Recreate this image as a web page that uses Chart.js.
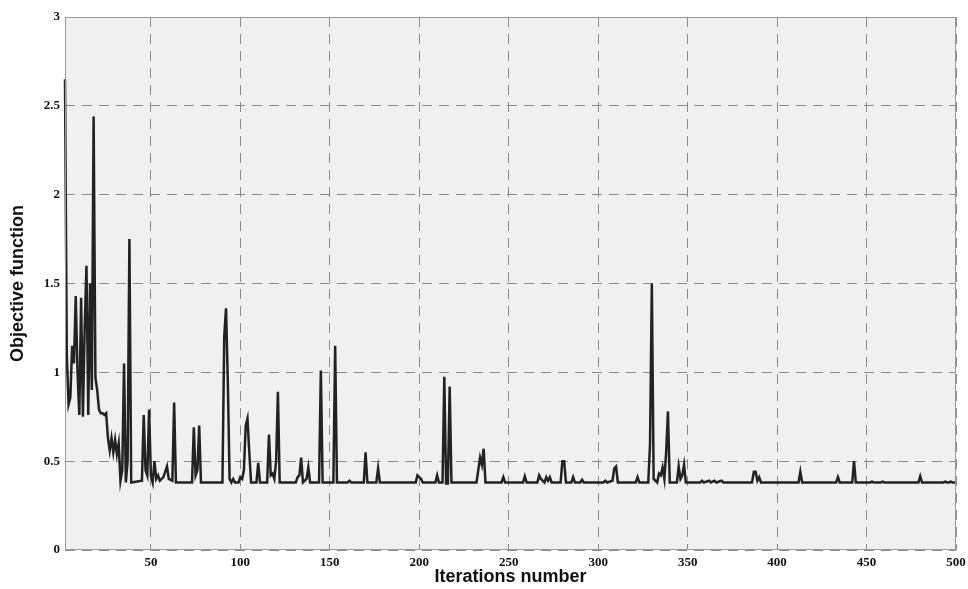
<!DOCTYPE html>
<html>
<head>
<meta charset="utf-8">
<script src="https://cdn.jsdelivr.net/npm/chart.js@4"></script>
<style>
  html, body { margin: 0; padding: 0; background: #fff; }
  #wrap { width: 968px; height: 589px; position: relative; }
</style>
</head>
<body>
<div id="wrap"><canvas id="myChart"></canvas></div>
<script>
// iteration numbers where the curve changes, and the objective value there
const iterations = [
  2,3,4,5,6,7,8,9,10,11,12,13,14,15,16,17,18,19,20,21,22,23,24,25,26,27,28,29,30,
  31,32,33,34,35,36,37,38,39,45,46,47,48,49,50,51,52,53,54,55,57,58,59,60,62,63,64,
  73,74,75,76,77,78,90,91,92,93,94,95,96,97,99,100,101,102,103,104,105,106,
  109,110,111,115,116,117,118,119,120,121,122,131,132,133,134,135,137,138,139,
  144,145,146,152,153,154,160,161,162,169,170,171,176,177,178,
  198,199,200,201,202,209,210,211,213,214,215,216,217,218,
  232,233,234,235,236,237,246,247,248,258,259,260,266,267,268,270,271,272,273,274,
  279,280,281,282,285,286,287,290,291,292,303,304,305,308,309,310,311,321,322,323,
  328,329,330,331,333,334,335,336,337,338,339,340,344,345,346,347,348,349,
  357,358,359,362,363,365,366,369,370,386,387,388,389,390,391,412,413,414,
  433,434,435,442,443,444,452,453,454,458,459,460,479,480,481,493,494,495,496,497,498,500
];
const objective = [
  2.65,1.1,0.82,0.86,1.15,1.05,1.43,1.0,0.76,1.42,0.75,1.25,1.6,0.76,1.5,0.9,2.44,0.97,0.9,0.79,0.77,0.77,0.76,0.77,0.63,0.56,0.63,0.55,0.62,
  0.54,0.6,0.39,0.45,1.05,0.38,0.5,1.75,0.38,0.39,0.76,0.45,0.42,0.79,0.42,0.38,0.5,0.4,0.42,0.39,0.41,0.44,0.47,0.4,0.39,0.83,0.38,
  0.38,0.69,0.42,0.45,0.7,0.38,0.38,1.2,1.36,0.95,0.4,0.38,0.4,0.38,0.38,0.41,0.4,0.45,0.7,0.74,0.55,0.38,
  0.38,0.49,0.38,0.38,0.65,0.42,0.43,0.4,0.5,0.89,0.38,0.38,0.41,0.42,0.52,0.38,0.4,0.465,0.38,
  0.38,1.01,0.38,0.38,1.15,0.38,0.38,0.39,0.38,0.38,0.55,0.38,0.38,0.46,0.38,
  0.38,0.42,0.41,0.4,0.38,0.38,0.42,0.38,0.38,0.975,0.375,0.375,0.92,0.38,
  0.38,0.45,0.52,0.48,0.57,0.38,0.38,0.41,0.38,0.38,0.415,0.38,0.38,0.42,0.4,0.38,0.41,0.39,0.41,0.38,
  0.38,0.5,0.5,0.38,0.38,0.41,0.38,0.38,0.395,0.38,0.38,0.39,0.38,0.39,0.46,0.47,0.38,0.38,0.41,0.38,
  0.38,0.6,1.5,0.4,0.38,0.43,0.42,0.465,0.4,0.55,0.78,0.38,0.38,0.47,0.4,0.42,0.48,0.38,
  0.38,0.39,0.38,0.39,0.38,0.39,0.38,0.39,0.38,0.38,0.44,0.44,0.39,0.41,0.38,0.38,0.44,0.38,
  0.38,0.41,0.38,0.38,0.5,0.38,0.38,0.385,0.38,0.38,0.385,0.38,0.38,0.415,0.38,0.38,0.385,0.38,0.38,0.385,0.38,0.38
];
const xTicks = [50,100,150,200,250,300,350,400,450,500];
const yTicks = [0,0.5,1,1.5,2,2.5,3];

const points = iterations.map((it, i) => ({ x: it, y: objective[i] }));

const tickFont = { family: "'Liberation Serif', 'Times New Roman', serif", size: 13, weight: 'bold' };
const titleFont = { family: "'Liberation Sans', Arial, sans-serif", size: 18, weight: 'bold' };

const plotFrame = {
  id: 'plotFrame',
  beforeDraw(chart) {
    const a = chart.chartArea, ctx = chart.ctx;
    ctx.save();
    ctx.fillStyle = '#f0f0f0';
    ctx.fillRect(a.left, a.top, a.right - a.left, a.bottom - a.top);
    ctx.restore();
  },
  afterDraw(chart) {
    const a = chart.chartArea, ctx = chart.ctx;
    ctx.save();
    ctx.strokeStyle = '#9a9a9a';
    ctx.lineWidth = 1;
    ctx.strokeRect(a.left + 0.5, a.top + 0.5, a.right - a.left - 1, a.bottom - a.top - 1);
    ctx.restore();
  }
};

new Chart("myChart", {
  type: "line",
  data: {
    datasets: [{
      label: "Objective function",
      data: points,
      borderColor: "#222",
      borderWidth: 2.5,
      pointRadius: 0,
      tension: 0,
      fill: false,
      clip: { left: 2, top: 2, right: 2, bottom: 2 }
    }]
  },
  options: {
    responsive: true,
    maintainAspectRatio: false,
    animation: false,
    layout: { padding: { left: 0, right: 12, top: 17, bottom: 0 } },
    plugins: {
      legend: { display: false },
      tooltip: { enabled: false }
    },
    scales: {
      x: {
        type: 'linear',
        min: 2,
        max: 500,
        afterBuildTicks(scale) { scale.ticks = xTicks.map(v => ({ value: v })); },
        afterFit(scale) { scale.height = 39; scale.paddingLeft = 0; scale.paddingRight = 0; },
        grid: { color: '#8a8a8a', lineWidth: 1, drawTicks: false },
        border: { display: false, dash: [10, 7] },
        ticks: { font: tickFont, color: '#111', padding: 5, maxRotation: 0, autoSkip: false },
        title: { display: true, text: 'Iterations number', font: titleFont, color: '#111', padding: { top: 0, bottom: 1 } }
      },
      y: {
        min: 0,
        max: 3,
        afterBuildTicks(scale) { scale.ticks = yTicks.map(v => ({ value: v })); },
        afterFit(scale) { scale.width = 65; scale.paddingTop = 0; scale.paddingBottom = 0; },
        grid: { color: '#8a8a8a', lineWidth: 1, drawTicks: false },
        border: { display: false, dash: [10, 7] },
        ticks: { font: tickFont, color: '#111', padding: 5, autoSkip: false, callback: v => String(v) },
        title: { display: true, text: 'Objective function', font: titleFont, color: '#111', padding: { top: 7, bottom: 0 } }
      }
    }
  },
  plugins: [plotFrame]
});
</script>
</body>
</html>
